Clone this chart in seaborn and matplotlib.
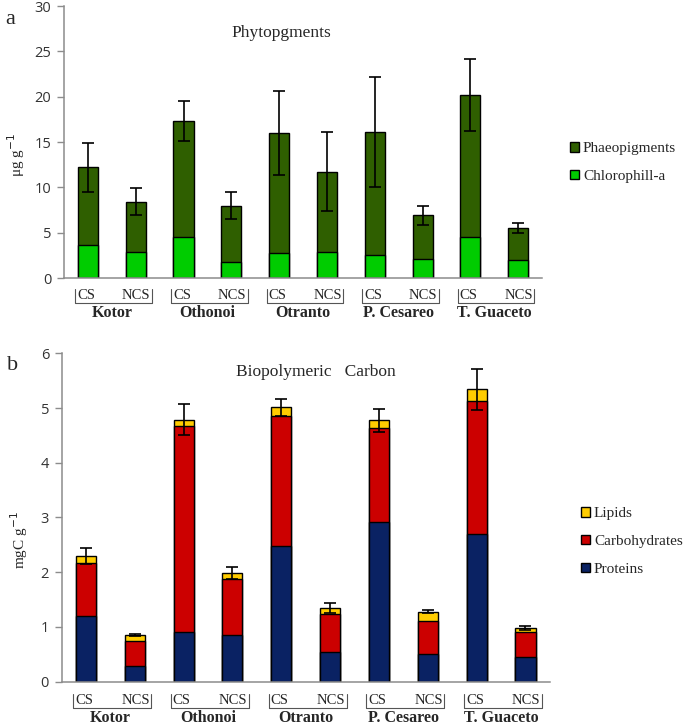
import numpy as np
import pandas as pd
import seaborn as sns
import matplotlib.pyplot as plt
from matplotlib.patches import Patch

sns.set_style("white")
plt.rcParams["font.family"] = ["Liberation Serif", "DejaVu Serif"]

######## DATA ########
sites = ["Kotor", "Othonoi", "Otranto", "P. Cesareo", "T. Guaceto"]
conds = ["CS", "NCS"]

# panel a - phytopigments (ug g-1)
chla = [3.7, 2.9, 4.5, 1.8, 2.75, 2.9, 2.5, 2.1, 4.5, 2.0]
phaeo = [8.5, 5.5, 12.85, 6.2, 13.25, 8.85, 13.6, 4.8, 15.7, 3.55]
pig_err = [2.7, 1.5, 2.2, 1.5, 4.6, 4.4, 6.1, 1.07, 4.0, 0.55]

# panel b - biopolymeric carbon (mgC g-1)
prot = [1.2, 0.29, 0.9, 0.86, 2.48, 0.55, 2.91, 0.51, 2.69, 0.46]
carb = [0.97, 0.45, 3.78, 1.02, 2.37, 0.69, 1.73, 0.6, 2.43, 0.45]
lip = [0.13, 0.11, 0.11, 0.11, 0.16, 0.1, 0.14, 0.17, 0.22, 0.07]
bpc_err = [0.15, 0.015, 0.29, 0.11, 0.16, 0.09, 0.21, 0.03, 0.38, 0.04]
######################

labels = [f"{s} {c}" for s in sites for c in conds]
df = pd.DataFrame({"lab": labels, "chla": chla, "phaeo": phaeo, "pig_err": pig_err,
                   "prot": prot, "carb": carb, "lip": lip, "bpc_err": bpc_err})
df["pig_tot"] = df["chla"] + df["phaeo"]
df["pc"] = df["prot"] + df["carb"]
df["bpc_tot"] = df["pc"] + df["lip"]

c_phaeo, c_chla = "#2f5f00", "#00cc00"
c_prot, c_carb, c_lip = "#0a2263", "#cc0000", "#ffcc00"
spine_c = "#8c8c8c"

fig = plt.figure(figsize=(6.85, 7.26), dpi=100)
ax_a = fig.add_axes([0.0934, 0.617, 0.698, 0.3747])
ax_b = fig.add_axes([0.0898, 0.061, 0.713, 0.4524])


def stack(ax, cols, colors, width):
    for col, colr in zip(cols, colors):
        sns.barplot(data=df, x="lab", y=col, order=labels, color=colr, width=width,
                    edgecolor="black", linewidth=1.0, saturation=1, ax=ax)


def style_axis(ax, ymax, step, y_cs, y_top, y_bot, y_grp):
    ax.set_xlim(-0.5, len(labels) - 0.5)
    ax.set_ylim(0, ymax)
    ax.set_yticks(np.arange(0, ymax + step / 2, step))
    ax.set_xticks([])
    ax.set_xticks(np.arange(-0.5, len(labels)), minor=True)
    ax.tick_params(axis="x", which="minor", direction="out", length=5, color=spine_c, width=1)
    ax.tick_params(axis="y", direction="out", length=5, color=spine_c, width=1,
                   labelsize=10.5, labelcolor="#333333", left=True, pad=4)
    for t in ax.get_yticklabels():
        t.set_family(["Open Sans", "DejaVu Sans"])
    sns.despine(ax=ax)
    for s in ("left", "bottom"):
        ax.spines[s].set_color(spine_c)
        ax.spines[s].set_linewidth(1.1)
    ax.set_xlabel("")
    ax.set_ylabel("")
    tr = ax.get_xaxis_transform()
    for g, site in enumerate(sites):
        x0 = 2 * g
        ax.text(x0 - 0.22, y_cs, "CS", transform=tr, ha="left", va="center", fontsize=10.5)
        ax.text(x0 + 1.31, y_cs, "NCS", transform=tr, ha="right", va="center", fontsize=10.5)
        ax.plot([x0 - 0.26, x0 - 0.26, x0 + 1.34, x0 + 1.34], [y_top, y_bot, y_bot, y_top],
                transform=tr, color="#555555", lw=0.8, clip_on=False)
        ax.text(x0 + 0.5, y_grp, site, transform=tr, ha="center", va="center",
                fontsize=11.5, fontweight="bold")


leg_kw = dict(loc="upper left", frameon=False, fontsize=11, handlelength=0.6,
              handleheight=0.6, handletextpad=0.25, labelspacing=0.95,
              borderpad=0, borderaxespad=0)

# panel a
stack(ax_a, ["pig_tot", "chla"], [c_phaeo, c_chla], 0.42)
ax_a.errorbar(np.arange(len(labels)), df["pig_tot"], yerr=df["pig_err"], fmt="none",
              ecolor="black", elinewidth=1.2, capsize=4.5, capthick=1.2)
style_axis(ax_a, 30, 5, -0.0625, -0.040, -0.092, -0.13)
ax_a.text(0.454, 0.90, "Phytopgments", transform=ax_a.transAxes, fontsize=12.5,
          ha="center", va="center")
fig.text(16 / 685, 1 - 155 / 726, "μg g$^{-1}$", rotation=90, fontsize=11,
         ha="center", va="center")
fig.text(0.008, 1 - 19 / 726, "a", fontsize=16, va="center")
fig.legend(handles=[Patch(facecolor=c_phaeo, edgecolor="black", label="Phaeopigments"),
                    Patch(facecolor=c_chla, edgecolor="black", label="Chlorophill-a")],
           bbox_to_anchor=(570 / 685, 1 - 142 / 726), **leg_kw)

# panel b
stack(ax_b, ["bpc_tot", "pc", "prot"], [c_lip, c_carb, c_prot], 0.41)
ax_b.errorbar(np.arange(len(labels)), df["bpc_tot"], yerr=df["bpc_err"], fmt="none",
              ecolor="black", elinewidth=1.2, capsize=4.5, capthick=1.2)
style_axis(ax_b, 6, 1, -0.056, -0.037, -0.080, -0.112)
ax_b.text(0.52, 0.943, "Biopolymeric   Carbon", transform=ax_b.transAxes, fontsize=12.5,
          ha="center", va="center")
fig.text(19 / 685, 1 - 540 / 726, "mgC g$^{-1}$", rotation=90, fontsize=11,
         ha="center", va="center")
fig.text(0.010, 1 - 366 / 726, "b", fontsize=16, va="center")
fig.legend(handles=[Patch(facecolor=c_lip, edgecolor="black", label="Lipids"),
                    Patch(facecolor=c_carb, edgecolor="black", label="Carbohydrates"),
                    Patch(facecolor=c_prot, edgecolor="black", label="Proteins")],
           bbox_to_anchor=(581 / 685, 1 - 507 / 726), **leg_kw)

fig.savefig("out.png", dpi=100)
